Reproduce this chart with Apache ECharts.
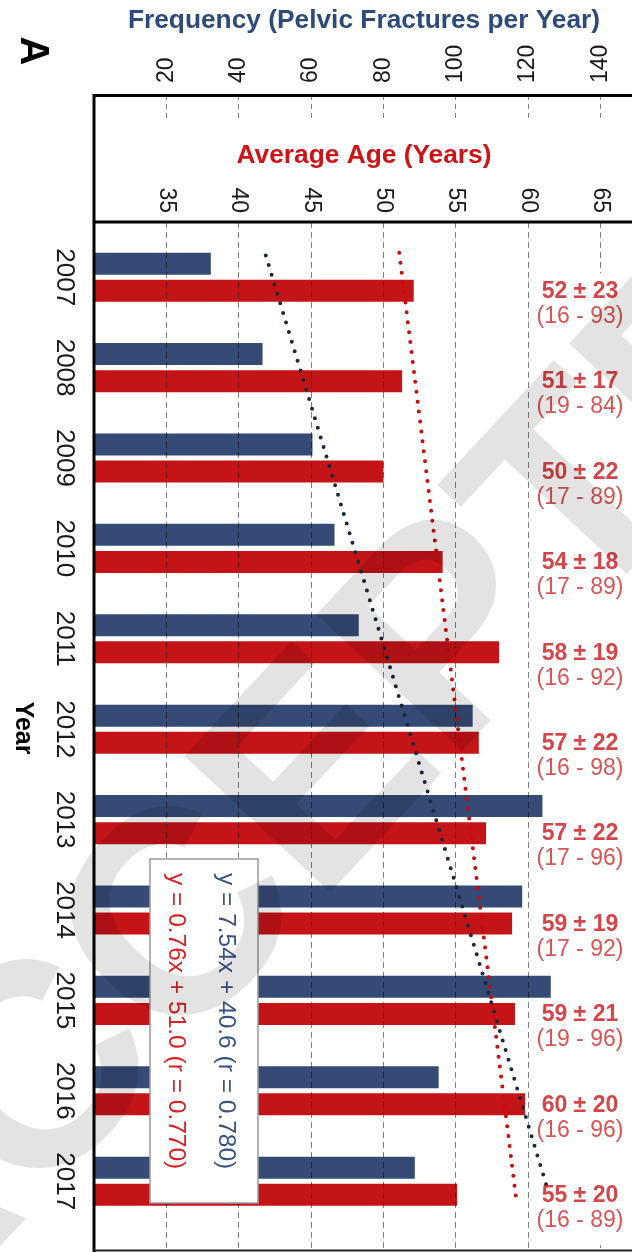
<!DOCTYPE html>
<html><head><meta charset="utf-8">
<script src="https://cdn.jsdelivr.net/npm/echarts@6/dist/echarts.min.js"></script>
<style>html,body{margin:0;padding:0;background:#fff}#c{width:632px;height:1252px}</style>
</head><body><div id="c"></div>
<script>
// ---- data ----
const years = ['2007','2008','2009','2010','2011','2012','2013','2014','2015','2016','2017'];
const frequency = [32.3, 46.6, 60.4, 66.5, 73.2, 104.7, 124.0, 118.4, 126.3, 95.3, 88.7];
const avgAge = [52.1, 51.3, 50.0, 54.1, 58.0, 56.6, 57.1, 58.9, 59.1, 59.8, 55.1];
const ageMean = [52, 51, 50, 54, 58, 57, 57, 59, 59, 60, 55];
const ageSD = [23, 17, 22, 18, 19, 22, 22, 19, 21, 20, 20];
const ageMin = [16, 19, 17, 17, 16, 16, 17, 17, 19, 16, 16];
const ageMax = [93, 84, 89, 89, 92, 98, 96, 92, 96, 96, 89];
const freqAxis = {min: 0, max: 150, interval: 20};
const ageAxis = {min: 30, max: 67.5, interval: 5};
const freqTrend = [[47.5, 2006.76], [125.5, 2017.1]];
const ageTrend = [[51.1, 2006.73], [59.2, 2017.22]];
const freqEquation = 'y = 7.54x + 40.6 (r = 0.780)';
const ageEquation = 'y = 0.76x + 51.0 (r = 0.770)';

const FONT = '"Liberation Sans", Arial, Helvetica, sans-serif';
const BLUE = '#354a74', RED = '#c41418', NAVY_T = '#2d4a7b', RED_T = '#cc1418';
const LABEL_AGE = 63.59;
const PLOT_L = 94, PLOT_W = 542.5;

const chart = echarts.init(document.getElementById('c'), null, {renderer: 'canvas'});

const labelData = years.map((y, i) => ({
  value: [LABEL_AGE, y],
  mean: ageMean[i], sd: ageSD[i], lo: ageMin[i], hi: ageMax[i]
}));

const option = {
  animation: false,
  backgroundColor: '#fff',
  textStyle: {fontFamily: FONT},
  grid: [
    {left: PLOT_L, top: 222, width: PLOT_W, height: 1028, show: false, outerBoundsMode: 'none', containLabel: false},
    {left: PLOT_L, top: 232, width: PLOT_W, height: 994.4, show: false, outerBoundsMode: 'none', containLabel: false}
  ],
  xAxis: [
    {gridIndex: 0, type: 'value', position: 'top', min: ageAxis.min, max: ageAxis.max, interval: ageAxis.interval, z: 5,
     axisLine: {show: false}, axisTick: {show: false},
     axisLabel: {rotate: -90, fontSize: 23, margin: 9, color: '#1a1a1a', fontFamily: FONT, showMinLabel: false, showMaxLabel: false},
     splitLine: {show: true, lineStyle: {color: 'rgba(0,0,0,0.5)', width: 1, type: [6, 4]}}},
    {gridIndex: 0, type: 'value', position: 'top', offset: 127, min: freqAxis.min, max: freqAxis.max, interval: freqAxis.interval, z: 5,
     axisLine: {show: false},
     axisTick: {show: true, inside: true, length: 24, lineStyle: {color: 'rgba(0,0,0,0.5)', width: 1, type: [5, 4]}},
     axisLabel: {rotate: -90, fontSize: 23, margin: 12, color: '#1a1a1a', fontFamily: FONT, showMinLabel: false, showMaxLabel: false},
     splitLine: {show: false}},
    {gridIndex: 1, type: 'value', min: ageAxis.min, max: ageAxis.max, show: false},
    {gridIndex: 1, type: 'value', min: freqAxis.min, max: freqAxis.max, show: false}
  ],
  yAxis: [
    {gridIndex: 0, type: 'value', min: 0, max: 1, show: false},
    {gridIndex: 1, type: 'category', data: years, inverse: true,
     axisLine: {show: false}, axisTick: {show: false}, splitLine: {show: false},
     axisLabel: {rotate: -90, fontSize: 26, margin: 17, color: '#1a1a1a', fontFamily: FONT}},
    {gridIndex: 1, type: 'value', min: 2006.5, max: 2017.5, inverse: true, show: false}
  ],
  series: [
    {name: 'Frequency', type: 'bar', xAxisIndex: 3, yAxisIndex: 1, data: frequency,
     barWidth: 22, barGap: '23%', itemStyle: {color: BLUE}, z: 2},
    {name: 'Average Age', type: 'bar', xAxisIndex: 2, yAxisIndex: 1, data: avgAge,
     barWidth: 22, barGap: '23%', itemStyle: {color: RED}, z: 2},
    {name: 'Frequency trend', type: 'line', xAxisIndex: 3, yAxisIndex: 2, data: freqTrend,
     showSymbol: false, symbol: 'none', z: 8,
     lineStyle: {color: '#1c2839', width: 4, type: [0, 10], cap: 'round'}},
    {name: 'Age trend', type: 'line', xAxisIndex: 2, yAxisIndex: 2, data: ageTrend,
     showSymbol: false, symbol: 'none', z: 8,
     lineStyle: {color: '#cc0a0a', width: 4, type: [0, 10], cap: 'round'}},
    {name: 'Age labels', type: 'scatter', xAxisIndex: 2, yAxisIndex: 1, data: labelData,
     symbolSize: 0, z: 10, silent: true,
     label: {show: true, position: 'inside', offset: [0, 27], align: 'center',
       formatter: p => `{m|${p.data.mean} ± ${p.data.sd}}\n{r|(${p.data.lo} - ${p.data.hi})}`,
       rich: {
         m: {fontSize: 23, fontWeight: 'bold', color: '#c8161c', lineHeight: 25, fontFamily: FONT, align: 'center'},
         r: {fontSize: 23, color: '#cc2a2a', lineHeight: 25, fontFamily: FONT, align: 'center'}
       }}}
  ],
  graphic: [
    {type: 'rect', z: 6, silent: true, shape: {x: 558, y: 273, width: 90, height: 972}, style: {fill: '#fff'}},
    {type: 'line', z: 12, silent: true, shape: {x1: 94, y1: 94, x2: 94, y2: 1252}, style: {stroke: '#000', lineWidth: 3}},
    {type: 'line', z: 12, silent: true, shape: {x1: 93, y1: 95.5, x2: 640, y2: 95.5}, style: {stroke: '#000', lineWidth: 3}},
    {type: 'line', z: 12, silent: true, shape: {x1: 93, y1: 222, x2: 640, y2: 222}, style: {stroke: '#000', lineWidth: 3}},
    {type: 'line', z: 12, silent: true, shape: {x1: 93, y1: 1250.5, x2: 640, y2: 1250.5}, style: {stroke: '#222', lineWidth: 2}},
    {type: 'text', z: 12, x: 364, y: 21, style: {text: 'Frequency (Pelvic Fractures per Year)', fontSize: 26.3, fontWeight: 'bold', fontFamily: FONT, fill: NAVY_T, align: 'center', verticalAlign: 'middle'}},
    {type: 'text', z: 12, x: 364, y: 156, style: {text: 'Average Age (Years)', fontSize: 26.3, fontWeight: 'bold', fontFamily: FONT, fill: RED_T, align: 'center', verticalAlign: 'middle'}},
    {type: 'text', z: 12, x: 32, y: 51, rotation: -Math.PI / 2, style: {text: 'A', fontSize: 40, fontWeight: 'bold', fontFamily: FONT, fill: '#000', align: 'center', verticalAlign: 'middle'}},
    {type: 'text', z: 12, x: 23, y: 728, rotation: -Math.PI / 2, style: {text: 'Year', fontSize: 25, fontWeight: 'bold', fontFamily: FONT, fill: '#000', align: 'center', verticalAlign: 'middle'}},
    {type: 'rect', z: 14, silent: true, shape: {x: 150, y: 859, width: 108, height: 344}, style: {fill: '#fff', stroke: '#9a9a9a', lineWidth: 1.5}},
    {type: 'text', z: 15, x: 226, y: 873, rotation: -Math.PI / 2, style: {text: freqEquation, fontSize: 24.5, fontFamily: FONT, fill: '#3a5283', align: 'left', verticalAlign: 'middle'}},
    {type: 'text', z: 15, x: 176, y: 873, rotation: -Math.PI / 2, style: {text: ageEquation, fontSize: 24.5, fontFamily: FONT, fill: '#d42424', align: 'left', verticalAlign: 'middle'}},
    {type: 'text', z: 30, silent: true, x: 374, y: 728, rotation: 47 * Math.PI / 180, style: {text: 'ACCEPTED', fontSize: 290, fontWeight: 'bold', fontFamily: FONT, fill: 'rgba(0,0,0,0.11)', align: 'center', verticalAlign: 'middle'}}
  ]
};
chart.setOption(option);
</script>
</body></html>
